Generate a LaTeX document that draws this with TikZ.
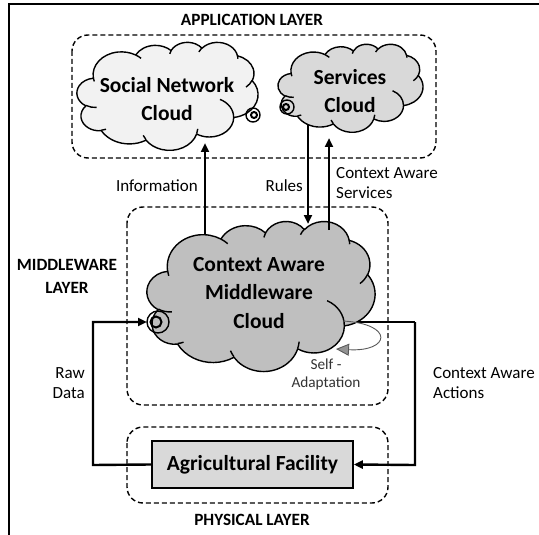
\documentclass[tikz,border=0pt]{standalone}
\usepackage{fontspec}
\setmainfont{Carlito}
\usetikzlibrary{arrows.meta,calc}
\definecolor{lightfill}{HTML}{F2F2F2}
\definecolor{midfill}{HTML}{D9D9D9}
\definecolor{darkfill}{HTML}{BFBFBF}
% one arc of an Office-style cloud: x radius, y radius, start angle, sweep (visual angles)
\newcommand\cldarc[4]{arc[x radius=#1, y radius=#2, start angle={atan2((#1)*sin(#3),(#2)*cos(#3))}, delta angle={mod(atan2((#1)*sin((#3)+(#4)),(#2)*cos((#3)+(#4)))-atan2((#1)*sin(#3),(#2)*cos(#3))+720,360)}]}
% cloud: x0, y0, width, height, fill
\newcommand\drawcloud[5]{%
\begin{scope}[shift={(#1,#2)}, xscale=#3/43.2, yscale=#4/43.2]
\draw[cloudline, fill=#5] (3.9,14.37)
  \cldarc{6.753}{9.190}{-190.4875}{123.7805}
  \cldarc{5.333}{7.267}{-144.1024}{89.9452}
  \cldarc{4.365}{5.945}{-145.8079}{99.7230}
  \cldarc{4.857}{6.595}{-130.9861}{117.2417}
  \cldarc{5.333}{7.273}{-78.7089}{109.0269}
  \cldarc{6.775}{9.220}{-46.2673}{130.2690}
  \cldarc{5.785}{7.867}{0.6250}{114.0333}
  \cldarc{6.752}{9.215}{22.4516}{115.1726}
  \cldarc{7.720}{10.543}{66.2426}{75.7110}
  \cldarc{4.360}{5.918}{-274.9421}{146.7356}
  \cldarc{4.345}{5.945}{-246.8285}{152.5189} -- cycle;
\draw[cloudline]
  (4.693,26.177) \cldarc{4.345}{5.945}{86.7420}{26.4295}
  (6.928,34.899) \cldarc{4.360}{5.918}{73.6105}{11.4475}
  (16.478,39.090) \cldarc{6.752}{9.215}{137.6242}{14.0811}
  (28.827,34.751) \cldarc{6.752}{9.215}{6.4533}{15.9984}
  (34.129,22.954) \cldarc{5.785}{7.867}{-70.2924}{70.9174}
  (41.798,15.354) \cldarc{5.333}{7.273}{30.3180}{27.7515}
  (38.324,5.426) \cldarc{4.857}{6.595}{-13.7443}{14.8589}
  (29.078,3.952) \cldarc{4.857}{6.595}{-149.1815}{18.1954}
  (22.141,4.720) \cldarc{4.365}{5.945}{-163.4943}{17.8360}
  (14.000,5.192) \cldarc{6.753}{9.190}{-66.7070}{12.3194}
  (4.127,15.789) \cldarc{6.753}{9.190}{157.6544}{11.8582};
\end{scope}}
\begin{document}
\begin{tikzpicture}[x=1pt,y=-1pt,
  cloudline/.style={line width=1.4pt, line join=round},
  layerbox/.style={draw, dashed, dash pattern=on 5pt off 3pt, line width=1.4pt, rounded corners=16pt},
  layertitle/.style={font=\bfseries\fontsize{17.2}{23}\selectfont, inner sep=0pt},
  plainlabel/.style={font=\fontsize{17}{20}\selectfont, inner sep=0pt, align=left},
  cloudtext/.style={font=\bfseries\fontsize{21.5}{28.5}\selectfont, align=center, inner sep=0pt},
  flow/.style={line width=2.4pt, -{Triangle[length=9pt,width=8pt]}},
  flowline/.style={line width=2.4pt},
  port/.style={line width=1.4pt}
]
\useasboundingbox (0,0) rectangle (539,535);
% frame
\draw[line width=1.4pt] (539,4) -- (9,4) -- (9,535);

% layer boxes
\node[layertitle] (apptitle) at (252,20) {APPLICATION LAYER};
\draw[layerbox] (72,35) rectangle (436,158);
\node[layertitle, align=center] (mwtitle) at (67,276) {MIDDLEWARE\\LAYER};
\draw[layerbox] (127,207) rectangle (388,405);
\draw[layerbox] (127,427) rectangle (388,503);
\node[layertitle] (phytitle) at (252,520) {PHYSICAL LAYER};

% connector coordinates
\coordinate (infoS) at (205,250);
\coordinate (infoE) at (205,143);
\coordinate (rulesS) at (308,110);
\coordinate (rulesE) at (308,224);
\coordinate (casS) at (329,245);
\coordinate (casE) at (329,138);
\coordinate (actS) at (340,322);
\coordinate (actA) at (415,322);
\coordinate (actB) at (415,465);
\coordinate (rawA) at (93,465);
\coordinate (rawB) at (93,322);

% connector tails hidden under the clouds
\draw[flowline] (rulesS) -- (308,135);
\draw[flowline] (infoS) -- (205,235);
\draw[flowline] (casS) -- (329,230);
\draw[flowline] (actS) -- (actA);

% clouds
\drawcloud{77}{42}{181}{108}{lightfill}
\coordinate (social) at (167,96);
\node[cloudtext] (socialtxt) at (167,99) {Social Network\\Cloud};
\drawcloud{278}{44}{145}{88}{midfill}
\coordinate (services) at (350,88);
\node[cloudtext] (servicestxt) at (350,91) {Services\\Cloud};
\drawcloud{147}{221}{228}{150}{darkfill}
\coordinate (mw) at (260,296);
\node[cloudtext] (mwtxt) at (259,293) {Context Aware\\Middleware\\Cloud};

% facility
\node[draw, line width=1.6pt, fill=midfill, minimum width=201pt, minimum height=47pt, inner sep=0pt, font=\bfseries\fontsize{21.5}{24}\selectfont] (farm) at (252.5,464.5) {Agricultural Facility};

% ports
\coordinate (socport) at (253,115);
\coordinate (servport) at (287,107);
\coordinate (mwport) at (158,322);
\draw[port] (socport) circle (7pt);
\draw[port, line width=2pt] ($(socport)+(1,0)$) circle (3pt);
\draw[port] (servport) circle (7pt);
\draw[port, line width=2pt] ($(servport)+(-1,0)$) circle (3pt);
\draw[port] (mwport) circle (11pt);
\draw[port, line width=2pt] ($(mwport)+(-2,0)$) circle (5.5pt);

% visible flows
\draw[flow] (205,235) -- (infoE);
\draw[flow] (308,135) -- (rulesE);
\draw[flow] (329,230) -- (casE);
\draw[flow] (farm.west) -- (rawA) -- (rawB) -- ($(mwport)+(-11,0)$);
\draw[flow] (actA) -- (actB) -- (farm.east);

\node[plainlabel, anchor=east] (infolab) at (198,186) {Information};
\node[plainlabel, anchor=east] (ruleslab) at (303,186) {Rules};
\node[plainlabel, anchor=west] (caslab) at (336,183) {Context Aware\\Services};
\node[plainlabel, align=right, anchor=east] (rawlab) at (85,383) {Raw\\Data};
\node[plainlabel, anchor=west] (actlab) at (433,383) {Context Aware\\Actions};

% self adaptation
\coordinate (selfS) at (343,321);
\coordinate (selfE) at (336,349);
\draw[gray!70!black, line width=0.9pt, -{Triangle[length=13pt,width=12pt,fill=gray!85]}] (selfS) .. controls (395,324) and (390,352) .. (selfE);
\node[plainlabel, align=center, font=\fontsize{15.3}{18}\selectfont, text=black!80] (selflab) at (326,374) {Self -\\Adaptation};
\end{tikzpicture}
\end{document}
